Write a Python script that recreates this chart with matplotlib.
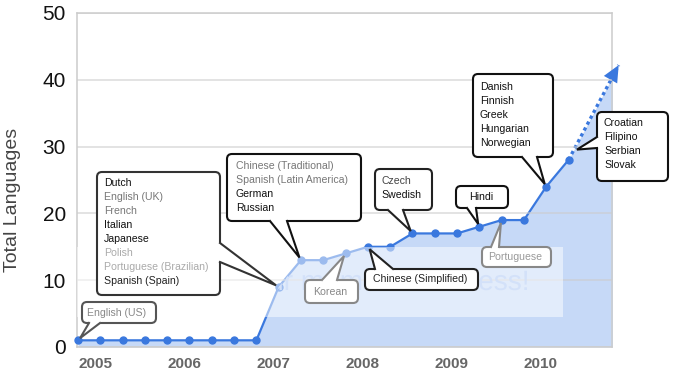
import matplotlib
matplotlib.use('Agg')
import matplotlib.pyplot as plt
from matplotlib.patches import FancyBboxPatch, Polygon, Rectangle, FancyArrowPatch, PathPatch
from matplotlib.transforms import IdentityTransform, Affine2D
from matplotlib.textpath import TextPath
from matplotlib.font_manager import FontProperties
import numpy as np

plt.rcParams['font.family'] = ['Liberation Sans', 'DejaVu Sans']

# quarterly totals, Q1 2005 .. Q3 2010
quarters = list(range(23))
total_langs = [1, 1, 1, 1, 1, 1, 1, 1, 1, 9, 13, 13, 14, 15, 15, 17, 17, 17, 18, 19, 19, 24, 28]
proj_quarters = [22, 24.25]
proj_total = [28, 42.2]

year_pos = [0, 4, 8, 12, 16, 20]
year_labels = ['2005', '2006', '2007', '2008', '2009', '2010']

# languages added at each quarter
note_quarter = [0, 9, 10, 12, 13, 15, 18, 19, 21]
note_langs = [
    ['English (US)'],
    ['Dutch', 'English (UK)', 'French', 'Italian', 'Japanese', 'Polish',
     'Portuguese (Brazilian)', 'Spanish (Spain)'],
    ['Chinese (Traditional)', 'Spanish (Latin America)', 'German', 'Russian'],
    ['Korean'],
    ['Chinese (Simplified)'],
    ['Czech', 'Swedish'],
    ['Hindi'],
    ['Portuguese'],
    ['Danish', 'Finnish', 'Greek', 'Hungarian', 'Norwegian'],
]
upcoming_at = (22.25, 29.4)
upcoming_langs = ['Croatian', 'Filipino', 'Serbian', 'Slovak']

watermark = 'Protect more of your memories for less!'

# callout layout in image pixels (y from top): box, tail base, text start, edge, text colours
H = 375
layout = [
    ((82, 302, 156, 323), ((89, 323), (100, 323)), (87, 312.5), '#555555', ['#888888']),
    ((97, 172, 220, 295), ((220, 243), (220, 262)), (104, 183), '#333333',
     ['#111111', '#777777', '#777777', '#111111', '#111111', '#aaaaaa', '#aaaaaa', '#222222']),
    ((227, 154, 361, 221), ((270, 221), (287, 221)), (236, 166), '#111111',
     ['#777777', '#777777', '#111111', '#111111']),
    ((305, 280, 358, 303), ((322, 280), (337, 280)), (313, 292), '#888888', ['#888888']),
    ((365, 269, 478, 290), ((375, 269), (393, 269)), (373, 279.5), '#222222', ['#222222']),
    ((375, 169, 432, 210), ((388, 210), (403, 210)), (381, 181), '#222222', ['#444444', '#111111']),
    ((456, 186, 508, 208), ((467, 208), (476, 208)), (469, 197), '#111111', ['#111111']),
    ((482, 247, 551, 267), ((491, 247), (499, 247)), (488, 257), '#888888', ['#999999']),
    ((473, 74, 553, 157), ((522, 157), (537, 157)), (480, 87), '#111111', ['#111111'] * 5),
]
upcoming_layout = ((597, 112, 668, 181), ((597, 137), (597, 148)), (604, 123), '#111111', ['#111111'] * 4)

line_color = '#3a78de'
fill_color = '#c6d9f7'

fig = plt.figure(figsize=(6.9, 3.75), dpi=100)
ax = fig.add_axes([77 / 690, (H - 347) / H, 535 / 690, 334 / H])
ax.set_xlim(-0.045, 23.95)
ax.set_ylim(0, 50)

fill_x = quarters + [proj_quarters[-1]]
fill_y = total_langs + [proj_total[-1]]
poly = ax.fill_between(fill_x, 0, fill_y, color=fill_color, lw=0, zorder=1)

ax.set_yticks([0, 10, 20, 30, 40, 50])
ax.grid(axis='y', color='#cccccc', lw=1.1, alpha=0.7, zorder=1.5)
ax.set_axisbelow(False)
for s in ax.spines.values():
    s.set_color('#cccccc')
    s.set_linewidth(1.1)
    s.set_zorder(1.5)

ax.plot(quarters, total_langs, color=line_color, lw=1.6, marker='o', ms=5,
        zorder=2, clip_on=False)
ax.plot(proj_quarters, proj_total, color=line_color, lw=2.4, ls=(0, (1, 1)),
        zorder=2, clip_on=False)
ax.add_patch(FancyArrowPatch((23.88, 40.0), (proj_quarters[-1], proj_total[-1]),
                             arrowstyle='-|>,head_length=12,head_width=5.5',
                             mutation_scale=1, color=line_color, lw=0,
                             shrinkA=0, shrinkB=0, zorder=2, clip_on=False))

ax.set_xticks(year_pos, year_labels)
for lbl in ax.get_xticklabels():
    lbl.set_horizontalalignment('left')
    lbl.set_fontweight('bold')
ax.tick_params(axis='x', length=0, pad=7, labelsize=11, labelcolor='#666666')
ax.tick_params(axis='y', length=0, pad=8, labelsize=15, labelcolor='#111111')
ax.set_ylabel('Total Languages', fontsize=14, color='#444444')
ax.yaxis.set_label_coords(-0.104, 0.44)

# watermark overlay: pale band, lettering only shows over the filled area
ident = IdentityTransform()
ax.add_patch(Rectangle((60, H - 317), 563 - 60, 70, fc='white', alpha=0.5, lw=0,
                       transform=ident, zorder=3))
tp = TextPath((0, 0), watermark, size=28, prop=FontProperties(family='Liberation Sans'))
tw = tp.get_extents().x1
wm = PathPatch(tp, fc='#d3e1f9', lw=0, zorder=3.5,
               transform=Affine2D().translate(527 - tw, H - 290) + ident)
ax.add_patch(wm)
wm.set_clip_path(poly.get_paths()[0], ax.transData)


def callout(spec, lines, tip_data):
    (x0, y0, x1, y1), base, (tx, ty), edge, colors = spec
    ax.add_patch(FancyBboxPatch((x0, H - y1), x1 - x0, y1 - y0,
                                boxstyle='round,pad=0,rounding_size=5',
                                fc='white', ec=edge, lw=1.5, transform=ident,
                                zorder=6, clip_on=False))
    b1 = np.array([base[0][0], H - base[0][1]], float)
    b2 = np.array([base[1][0], H - base[1][1]], float)
    tip = np.array(ax.transData.transform(tip_data))
    mid = (b1 + b2) / 2
    d = mid - tip
    d = d / np.hypot(*d)
    tip = tip + d * 3
    inward = d * 3
    ax.add_patch(Polygon([b1 + inward, b1, tip, b2, b2 + inward], closed=True,
                         fc='white', ec='none', transform=ident, zorder=7, clip_on=False))
    ax.plot([b1[0], tip[0], b2[0]], [b1[1], tip[1], b2[1]], color=edge, lw=1.5,
            transform=ident, zorder=8, clip_on=False, solid_joinstyle='miter')
    if len(colors) < len(lines):
        colors = colors * len(lines)
    for i, t in enumerate(lines):
        ax.text(tx, H - (ty + 14 * i), t, color=colors[i], fontsize=7.6, ha='left',
                va='center', transform=ident, zorder=9)


for q, langs, spec in zip(note_quarter, note_langs, layout):
    callout(spec, langs, (q, total_langs[q]))
callout(upcoming_layout, upcoming_langs, upcoming_at)

fig.savefig('out.png', dpi=100)
